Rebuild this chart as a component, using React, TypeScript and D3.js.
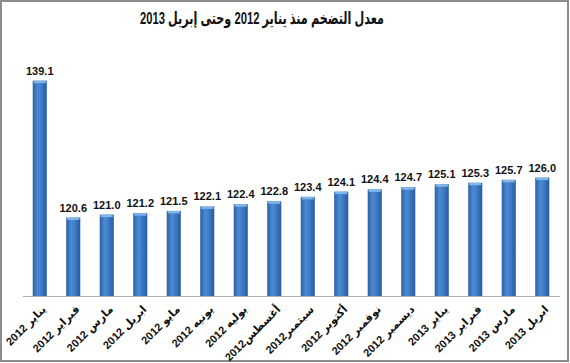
import React, { useEffect, useRef } from 'react';
import * as d3 from 'd3';

const title = 'معدل التضخم منذ يناير 2012 وحتى إبريل 2013';

const months = [
  'يناير 2012',
  'فبراير 2012',
  'مارس 2012',
  'ابريل 2012',
  'مايو 2012',
  'يونيه 2012',
  'يوليه 2012',
  'أغسطس2012',
  'سبتمبر2012',
  'أكتوبر 2012',
  'نوفمبر 2012',
  'ديسمبر 2012',
  'يناير 2013',
  'فبراير 2013',
  'مارس 2013',
  'ابريل 2013',
];

const inflation = [
  139.1, 120.6, 121.0, 121.2, 121.5, 122.1, 122.4, 122.8, 123.4, 124.1, 124.4,
  124.7, 125.1, 125.3, 125.7, 126.0,
];

const W = 570;
const H = 363;

const App = () => {
  const ref = useRef<SVGSVGElement>(null);

  useEffect(() => {
    drawChart();
  }, []); // eslint-disable-line react-hooks/exhaustive-deps

  const drawChart = () => {
    const svg = d3.select(ref.current);
    svg.selectAll('*').remove();

    const data = months.map((m, i) => ({ name: m, value: inflation[i] }));

    const x = d3
      .scaleBand()
      .domain(months)
      .range([23, 559])
      .paddingInner(0.58)
      .paddingOuter(0.29);

    const y = d3.scaleLinear().domain([110, 140]).range([296, 74]);

    const defs = svg.append('defs');
    const grad = defs
      .append('linearGradient')
      .attr('id', 'barGrad')
      .attr('x1', '0%')
      .attr('x2', '100%')
      .attr('y1', '0%')
      .attr('y2', '0%');
    grad.append('stop').attr('offset', '0%').attr('stop-color', '#2b5fa3');
    grad.append('stop').attr('offset', '35%').attr('stop-color', '#4b8ad4');
    grad.append('stop').attr('offset', '60%').attr('stop-color', '#3f7dc8');
    grad.append('stop').attr('offset', '100%').attr('stop-color', '#295a9c');

    // frame
    svg
      .append('rect')
      .attr('x', 1)
      .attr('y', 1)
      .attr('width', W - 3)
      .attr('height', H - 3)
      .attr('fill', '#fff')
      .attr('stroke', '#8c8c8c')
      .attr('stroke-width', 2);

    svg
      .append('text')
      .attr('x', 262)
      .attr('y', 24)
      .attr('text-anchor', 'middle')
      .attr('font-family', 'Arial, "Liberation Sans", "DejaVu Sans", sans-serif')
      .attr('font-weight', 'bold')
      .attr('font-size', 17)
      .attr('textLength', 244)
      .attr('lengthAdjust', 'spacingAndGlyphs')
      .attr('fill', '#111')
      .text(title);

    const bars = svg.append('g');
    bars
      .selectAll('rect.bar')
      .data(data)
      .enter()
      .append('rect')
      .attr('class', 'bar')
      .attr('x', (d) => x(d.name)!)
      .attr('y', (d) => y(d.value))
      .attr('width', x.bandwidth())
      .attr('height', (d) => y(110) - y(d.value))
      .attr('fill', 'url(#barGrad)');

    // light cap on top of each bar
    bars
      .selectAll('rect.cap')
      .data(data)
      .enter()
      .append('rect')
      .attr('class', 'cap')
      .attr('x', (d) => x(d.name)! + 1)
      .attr('y', (d) => y(d.value))
      .attr('width', x.bandwidth() - 2)
      .attr('height', 2.5)
      .attr('fill', '#80b6ea');

    svg
      .append('g')
      .selectAll('text')
      .data(data)
      .enter()
      .append('text')
      .attr('x', (d) => x(d.name)! + x.bandwidth() / 2)
      .attr('y', (d) => y(d.value) - 6)
      .attr('text-anchor', 'middle')
      .attr('font-family', '"Liberation Sans", Arial, sans-serif')
      .attr('font-weight', 'bold')
      .attr('font-size', 11)
      .attr('fill', '#111')
      .text((d) => d.value.toFixed(1));

    // baseline
    svg
      .append('line')
      .attr('x1', 23)
      .attr('x2', 560)
      .attr('y1', 296.5)
      .attr('y2', 296.5)
      .attr('stroke', '#b0b0b0')
      .attr('stroke-width', 1);

    svg
      .append('g')
      .selectAll('text')
      .data(months)
      .enter()
      .append('text')
      .attr('transform', (d) => {
        const cx = x(d)! + x.bandwidth() / 2 + 7;
        return `translate(${cx},310) rotate(-45)`;
      })
      .attr('text-anchor', 'end')
      .attr('font-family', 'Arial, "Liberation Sans", "DejaVu Sans", sans-serif')
      .attr('font-weight', 'bold')
      .attr('font-size', 11)
      .attr('fill', '#111')
      .text((d) => d);
  };

  return (
    <div>
      <svg
        ref={ref}
        width={W}
        height={H}
        style={{ position: 'absolute', left: 0, top: 0, background: '#fff' }}
      ></svg>
    </div>
  );
};

export default App;
